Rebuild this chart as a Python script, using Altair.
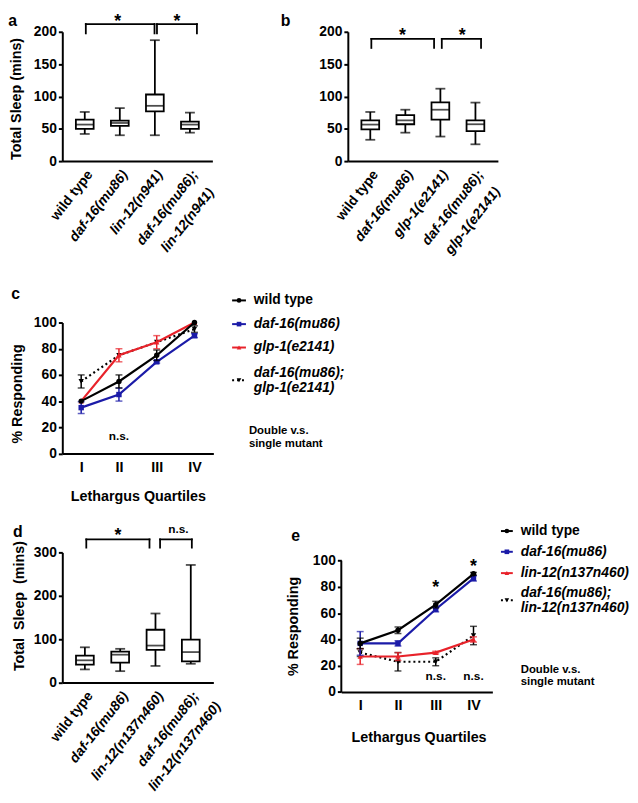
import json
import altair as alt
import pandas as pd

FONT = "Liberation Sans"
BLUE = "#1b1ba8"
RED = "#e8222a"

# ---------------- data ----------------
A_CATS = ["wild type", "daf-16(mu86)", "lin-12(n941)", "daf-16(mu86); lin-12(n941)"]
A_MIN = [42, 40, 40, 44]
A_Q1 = [50, 54.5, 77, 50]
A_MED = [56.5, 59, 85.5, 56.5]
A_Q3 = [64, 62.5, 103, 61]
A_MAX = [76, 82, 187, 75]

B_CATS = ["wild type", "daf-16(mu86)", "glp-1(e2141)", "daf-16(mu86); glp-1(e2141)"]
B_MIN = [33, 44, 38, 26]
B_Q1 = [49, 57, 64, 46.5]
B_MED = [56.5, 63, 79.5, 57]
B_Q3 = [63, 71, 91, 63]
B_MAX = [76, 79.5, 112, 90.5]

D_CATS = ["wild type", "daf-16(mu86)", "lin-12(n137n460)", "daf-16(mu86); lin-12(n137n460)"]
D_MIN = [30, 26, 38, 43]
D_Q1 = [41, 45.5, 75, 48.5]
D_MED = [51, 64, 85, 70]
D_Q3 = [62, 71, 121.5, 98.5]
D_MAX = [81, 77.5, 159, 271]

QUARTILES = ["I", "II", "III", "IV"]

C_SERIES = ["wild type", "daf-16(mu86)", "glp-1(e2141)", "daf-16(mu86); glp-1(e2141)"]
C_WT = [40, 55, 75, 100]
C_WT_SEM = [0, 5, 4, 0]
C_DAF = [35, 45, 70, 90]
C_DAF_SEM = [4.5, 5, 1, 1.5]
C_GLP = [40, 75, 85, 100]
C_GLP_SEM = [0, 5, 5, 0]
C_DBL = [55, 75, 85, 95]
C_DBL_SEM = [5, 0, 0, 2.5]

E_SERIES = ["wild type", "daf-16(mu86)", "lin-12(n137n460)", "daf-16(mu86); lin-12(n137n460)"]
E_WT = [37, 47, 66.5, 90]
E_WT_SEM = [4, 2.5, 2.5, 1]
E_DAF = [37, 37, 63, 86.5]
E_DAF_SEM = [9, 2, 2, 2]
E_LIN = [27, 27, 30, 40]
E_LIN_SEM = [6, 3, 1, 2]
E_DBL = [30, 23, 23, 43]
E_DBL_SEM = [3, 7, 3, 7]

ONE = pd.DataFrame({"k": [0]})

# approximate bold glyph advance widths (em) used only to offset two-line labels
_W = {"a": .556, "b": .611, "c": .556, "d": .611, "e": .556, "f": .333, "g": .611, "i": .278,
      "l": .278, "m": .889, "n": .611, "p": .611, "t": .333, "u": .611, "w": .778, "y": .556,
      "-": .333, "(": .333, ")": .333, ";": .333, " ": .278}


def tw(s, fs):
    return sum(_W.get(ch, .556) for ch in s) * fs


def const_text(text, dx, dy, size, style="normal", align="left", baseline="alphabetic", angle=None):
    kw = dict(text=text, align=align, baseline=baseline, fontSize=size, fontWeight="bold",
              fontStyle=style, font=FONT, color="black")
    if angle is not None:
        kw["angle"] = angle
    return alt.Chart(ONE).mark_text(**kw).encode(x=alt.value(dx), y=alt.value(dy))


def legend_entry(x0, x1, tx, y, color, shape, dash, lines, style, ym, lh=15):
    rk = dict(color=color, strokeWidth=2)
    if dash:
        rk["strokeDash"] = dash
    out = [
        alt.Chart(ONE).mark_rule(**rk).encode(x=alt.value(x0), x2=alt.value(x1), y=alt.value(ym)),
        alt.Chart(ONE).mark_point(shape=shape, filled=True, size=22, color=color, opacity=1)
        .encode(x=alt.value((x0 + x1) / 2), y=alt.value(ym)),
    ]
    for k, line in enumerate(lines):
        out.append(const_text(line, tx, y + k * lh, 14, style=style, baseline="middle"))
    return out


def box_panel(cats, mn, q1, med, q3, mx, ymax, yvals, w, h, brackets, notes,
              letter, ldx, ldy, title, tdx, tdy):
    n = len(cats)
    df = pd.DataFrame({"i": list(range(n)), "mn": mn, "q1": q1, "med": med, "q3": q3, "mx": mx})
    xaxis = alt.Axis(values=list(range(n)), labels=False, ticks=False, grid=False, title=None)
    yaxis = alt.Axis(values=yvals, tickSize=4, labelPadding=2, grid=False, title=None, labelFontSize=14)
    xs = alt.Scale(domain=[-0.5, n - 0.5], nice=False, zero=False)
    ys = alt.Scale(domain=[0, ymax], nice=False)

    def X(f):
        return alt.X(f"{f}:Q", scale=xs, axis=xaxis)

    def Y(f):
        return alt.Y(f"{f}:Q", scale=ys, axis=yaxis)

    base = alt.Chart(df)
    lw = 1.8
    layers = [
        base.mark_rule(color="black", strokeWidth=lw).encode(x=X("i"), y=Y("mn"), y2="mx:Q"),
        base.mark_tick(orient="horizontal", size=10, thickness=lw, color="black").encode(x=X("i"), y=Y("mn")),
        base.mark_tick(orient="horizontal", size=10, thickness=lw, color="black").encode(x=X("i"), y=Y("mx")),
        base.mark_bar(size=18, fill="white", stroke="black", strokeWidth=lw).encode(x=X("i"), y=Y("q1"), y2="q3:Q"),
        base.mark_tick(orient="horizontal", size=18, thickness=lw, color="black").encode(x=X("i"), y=Y("med")),
    ]
    br = alt.Chart(pd.DataFrame(brackets))
    layers += [
        br.mark_rule(color="black", strokeWidth=lw, strokeCap="square").encode(x=X("x1"), x2="x2:Q", y=Y("top")),
        br.mark_rule(color="black", strokeWidth=lw, strokeCap="square").encode(x=X("x1"), y=Y("top"), y2="bot:Q"),
        br.mark_rule(color="black", strokeWidth=lw, strokeCap="square").encode(x=X("x2"), y=Y("top"), y2="bot:Q"),
    ]
    for (t, xx, yy, fs) in notes:
        layers.append(alt.Chart(pd.DataFrame({"x": [xx], "y": [yy], "t": [t]}))
                      .mark_text(fontSize=fs, fontWeight="bold", font=FONT, align="center",
                                 baseline="alphabetic", color="black")
                      .encode(x=X("x"), y=Y("y"), text="t:N"))
    # rotated category labels
    for idx, cat in enumerate(cats):
        lines = cat.replace("; ", ";|").split("|")
        style = "normal" if idx == 0 else "italic"
        for j, line in enumerate(lines):
            dx = 0 if j == 0 else 0.6 * (tw(line, 14) - tw(lines[0], 14)) / 2
            layers.append(alt.Chart(pd.DataFrame({"i": [idx], "t": [line]}))
                          .mark_text(angle=308, align="right", baseline="top", fontSize=14,
                                     fontWeight="bold", fontStyle=style, font=FONT, color="black",
                                     dx=dx, dy=24 * j)
                          .encode(x=X("i"), y=alt.value(h + 7), text="t:N"))
    layers.append(const_text(letter, ldx, ldy, 16))
    if title:
        layers.append(const_text(title, tdx, tdy, 14.5, align="center", baseline="middle", angle=270))
    return alt.layer(*layers).properties(width=w, height=h)


def line_panel(series, means, sems, colors, shapes, dashes, order, w, h, ytop, manual_axis,
               notes, legend, letter, ldx, ldy, ytitle, ytx, yty, xtx, xty, dv, dvx, dvy):
    xs = alt.Scale(type="point", domain=QUARTILES, padding=0.5)
    xaxis = alt.Axis(labelFontSize=14.5, labelPadding=7, ticks=False, labelAngle=0, grid=False, title=None)
    ys = alt.Scale(domain=[0, ytop], nice=False)
    yaxis = alt.Axis(values=[0, 20, 40, 60, 80, 100], tickSize=4, labelPadding=2, grid=False,
                     title=None, domain=not manual_axis, labelFontSize=14)

    def X(f):
        return alt.X(f"{f}:O", scale=xs, axis=xaxis)

    def Y(f):
        return alt.Y(f"{f}:Q", scale=ys, axis=yaxis)

    layers = []
    if manual_axis:
        layers.append(alt.Chart(pd.DataFrame({"lo": [0], "hi": [100]}))
                      .mark_rule(color="black", strokeWidth=2)
                      .encode(x=alt.value(0), y=Y("lo"), y2="hi:Q"))
    for k in order:
        m, s = means[k], sems[k]
        df = pd.DataFrame({"q": QUARTILES, "m": m, "s": s,
                           "lo": [a - b for a, b in zip(m, s)], "hi": [a + b for a, b in zip(m, s)]})
        c = colors[k]
        lk = dict(color=c, strokeWidth=2.2)
        if dashes[k]:
            lk["strokeDash"] = dashes[k]
        base = alt.Chart(df)
        layers.append(base.mark_line(**lk).encode(x=X("q"), y=Y("m")))
        eb = alt.Chart(df[df["s"] > 0])
        layers.append(eb.mark_rule(color=c, strokeWidth=1.5).encode(x=X("q"), y=Y("lo"), y2="hi:Q"))
        layers.append(eb.mark_tick(orient="horizontal", size=7, thickness=1.5, color=c).encode(x=X("q"), y=Y("lo")))
        layers.append(eb.mark_tick(orient="horizontal", size=7, thickness=1.5, color=c).encode(x=X("q"), y=Y("hi")))
        layers.append(base.mark_point(shape=shapes[k], filled=True, size=30, color=c, opacity=1)
                      .encode(x=X("q"), y=Y("m")))
    for (t, q, yy, fs) in notes:
        layers.append(alt.Chart(pd.DataFrame({"q": [q], "y": [yy], "t": [t]}))
                      .mark_text(fontSize=fs, fontWeight="bold", font=FONT, align="center",
                                 baseline="alphabetic", color="black")
                      .encode(x=X("q"), y=Y("y"), text="t:N"))
    # legend
    lx0, lx1, ltx, rows = legend
    for k, (yy, ym) in enumerate(rows):
        lines = series[k].replace("; ", ";|").split("|")
        style = "normal" if k == 0 else "italic"
        layers += legend_entry(lx0, lx1, ltx, yy, colors[k], shapes[k], dashes[k], lines, style, ym)
    for j, line in enumerate(dv):
        layers.append(const_text(line, dvx, dvy + j * 12.3, 11.5, baseline="middle"))
    layers.append(const_text(letter, ldx, ldy, 16))
    layers.append(const_text(ytitle, ytx, yty, 14.5, align="center", baseline="middle", angle=270))
    layers.append(const_text("Lethargus Quartiles", xtx, xty, 14.5, align="center", baseline="middle"))
    return alt.layer(*layers).properties(width=w, height=h)


# ---------------- panels ----------------
pa = box_panel(A_CATS, A_MIN, A_Q1, A_MED, A_Q3, A_MAX, 200, [0, 50, 100, 150, 200], 152, 131,
               {"x1": [0.03, 2.06], "x2": [1.99, 3.2], "top": [212, 212], "bot": [197.5, 197.5]},
               [("*", 0.94, 207.5, 18), ("*", 2.63, 207.5, 18)],
               "a", -54.7, -6, "Total Sleep (mins)", -46, 68)

pb = box_panel(B_CATS, B_MIN, B_Q1, B_MED, B_Q3, B_MAX, 200, [0, 50, 100, 150, 200], 152, 131,
               {"x1": [0.03, 2.04], "x2": [1.82, 3.16], "top": [189, 189], "bot": [175, 175]},
               [("*", 0.92, 186, 18), ("*", 2.62, 186, 18)],
               "b", -68, -6, None, 0, 0)

pd_ = box_panel(D_CATS, D_MIN, D_Q1, D_MED, D_Q3, D_MAX, 300, [0, 100, 200, 300], 153, 131.7,
                {"x1": [0.04, 2.13], "x2": [1.83, 3.03], "top": [330, 330], "bot": [311, 311]},
                [("*", 0.94, 327, 18), ("n.s.", 2.65, 344.5, 12)],
                "d", -50, -16, "Total\u00a0 Sleep\u00a0 (mins)", -42.3, 54.4)

pc = line_panel(C_SERIES, [C_WT, C_DAF, C_GLP, C_DBL], [C_WT_SEM, C_DAF_SEM, C_GLP_SEM, C_DBL_SEM],
                ["black", BLUE, RED, "black"], ["circle", "square", "triangle-up", "triangle-down"],
                [None, None, None, [2, 3]], [3, 2, 1, 0], 153, 132.6, 100, False,
                [("n.s.", "II", 10.3, 12)],
                (172, 186, 194, [(-22.4, -22.4), (1.6, 1.6), (25.3, 25.3), (51, 58.5)]),
                "c", -51.7, -24, "% Responding", -45.2, 72.3, 77, 176.3,
                ["Double v.s.", "single mutant"], 189, 110.3)

pe = line_panel(E_SERIES, [E_WT, E_DAF, E_LIN, E_DBL], [E_WT_SEM, E_DAF_SEM, E_LIN_SEM, E_DBL_SEM],
                ["black", BLUE, RED, "black"], ["circle", "square", "triangle-up", "triangle-down"],
                [None, None, None, [2, 3]], [3, 2, 1, 0], 153, 141.4, 106.3, True,
                [("*", "III", 75.5, 18), ("*", "IV", 91.5, 18), ("n.s.", "III", 9.3, 12), ("n.s.", "IV", 9.3, 12)],
                (161.7, 173.7, 181.7, [(-21.6, -21.6), (-0.6, -0.6), (21, 21), (41, 48.5)]),
                "e", -50.6, -11.3, "% Responding", -48.3, 75, 78.7, 188,
                ["Double v.s.", "single mutant"], 181.7, 119.4)

row1 = alt.hconcat(pa, pb, spacing=64.2)
row3 = alt.hconcat(pd_, pe, spacing=61.6)
top = alt.vconcat(row1, pc, spacing=28.5)
chart = alt.vconcat(top, row3, spacing=19.3).properties(padding=0)
chart = chart.configure(font=FONT).configure_view(stroke=None).configure_axis(
    domainColor="black", domainWidth=2, tickColor="black", tickWidth=2, labelColor="black",
    labelFont=FONT, labelFontWeight="bold", grid=False)

chart.save("out.html", embed_options={"renderer": "svg", "actions": False})
